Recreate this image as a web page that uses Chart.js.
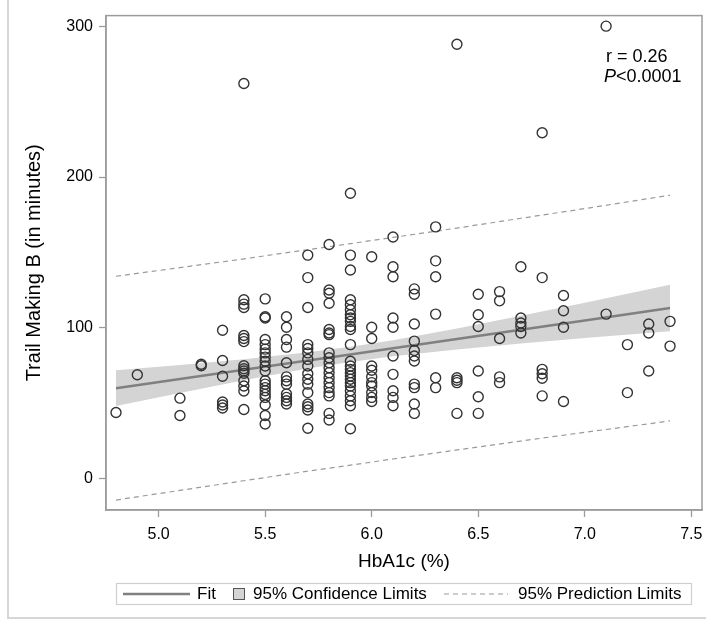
<!DOCTYPE html>
<html>
<head>
<meta charset="utf-8">
<script src="https://cdn.jsdelivr.net/npm/chart.js@4.4.1/dist/chart.umd.min.js"></script>
<style>
  html, body { margin: 0; padding: 0; background: #fff; }
</style>
</head>
<body>
<canvas id="chart" width="714" height="627"></canvas>
<script>
Chart.defaults.font.family = '"Liberation Sans", Arial, sans-serif';
Chart.defaults.color = '#000';

// HbA1c groups (x) and the Trail Making B times
const hba1cLevels = [4.8, 4.9, 5.1, 5.2, 5.3, 5.4, 5.5, 5.6, 5.7, 5.8, 5.9, 6.0, 6.1, 6.2, 6.3, 6.4, 6.5, 6.6, 6.7, 6.8, 6.9, 7.1, 7.2, 7.3, 7.4];
const trailByLevel = [
  [44],
  [69],
  [53.5, 42],
  [76, 75],
  [98.5, 78.5, 68, 51, 49, 47],
  [262, 118.7, 115.8, 113.6, 95, 93, 91, 75, 73, 71.5, 70, 65, 61.6, 58.3, 46],
  [119.3, 107.5, 106.6, 92.4, 89, 86, 83.5, 80.7, 78, 74.8, 71.5, 65, 62.8, 60.5, 58.4, 56, 54, 49, 42, 36.4],
  [107.5, 100.5, 92.4, 87.3, 77, 67.6, 65, 62.8, 56.2, 54, 51.8, 49.6],
  [148.3, 133.4, 113.6, 89, 86.4, 83.5, 79.2, 74.8, 69.7, 66, 62.8, 57.2, 49.6, 47.8, 45.7, 33.6],
  [155.3, 125.2, 123, 116.4, 99, 96.7, 95.6, 83.5, 80.3, 77, 73.7, 70.4, 67, 63.8, 60.5, 57.2, 55, 43.4, 39],
  [189.3, 148.3, 138.4, 118.7, 115.4, 112, 108.8, 106.6, 104.4, 101, 99, 89, 78, 74.8, 72.6, 70.4, 68.2, 66, 63.8, 61.6, 58.4, 55, 51.8, 48.5, 33.2],
  [147.2, 100.5, 93, 74.8, 72, 67.6, 63.8, 61.6, 57.2, 54, 51.3],
  [160.3, 140.6, 134, 106.6, 100.5, 81.4, 69.3, 58.4, 54, 48.5],
  [125.9, 122.4, 102.6, 91.3, 85.1, 81.4, 78.1, 62.8, 60.5, 49.6, 43.4],
  [167, 144.5, 134, 109.2, 67, 60.5],
  [288, 67, 65.4, 63.8, 43.4],
  [122.4, 108.8, 101, 71.5, 54.4, 43.4],
  [124.1, 118, 93, 67.6, 63.8],
  [140.6, 106.6, 103.3, 101, 96.7],
  [229.4, 133.4, 72.6, 69.7, 66.7, 55],
  [121.5, 111.4, 100.5, 51.3],
  [300, 109.2],
  [89, 57.2],
  [102.6, 96.7, 71.5],
  [104.4, 88]
];

// regression fit and limits, read at a few x positions
const fitX   = [4.8, 5.1, 5.4, 5.7, 5.9, 6.1, 6.4, 6.7, 7.0, 7.4];
const fitY   = [60.1, 66.2, 72.3, 78.5, 82.5, 86.6, 92.7, 98.9, 105.0, 113.2];
const clLow  = [48.3, 56.9, 65.3, 73.1, 77.5, 81.3, 85.8, 89.7, 93.3, 97.9];
const clHigh = [72.0, 75.5, 79.3, 83.9, 87.5, 91.9, 99.6, 108.1, 116.7, 128.6];
const plLow  = [-14.0, -7.6, -1.2, 5.1, 9.1, 13.2, 19.2, 25.1, 30.9, 38.4];
const plHigh = [134.3, 140.0, 145.8, 151.9, 155.9, 160.0, 166.2, 172.7, 179.1, 188.0];

const xTicks = [5.0, 5.5, 6.0, 6.5, 7.0, 7.5];
const yTicks = [0, 100, 200, 300];
const statR = 'r = 0.26';
const statP = '<0.0001';

var points = [];
hba1cLevels.forEach((x, i) => {
  trailByLevel[i].forEach(y => points.push({x: x, y: y}));
});
const toXY = (ys) => fitX.map((x, i) => ({x: x, y: ys[i]}));

const FONT = '"Liberation Sans", Arial, sans-serif';

// frame, stats text and the legend row under the plot
const decor = {
  id: 'decor',
  afterDraw(chart) {
    const c = chart.ctx, a = chart.chartArea;
    c.save();
    c.strokeStyle = '#9c9c9c';
    c.lineWidth = 1.5;
    c.strokeRect(a.left, a.top, a.right - a.left, a.bottom - a.top);

    // outer graph border
    c.strokeStyle = '#d6d6d6';
    c.lineWidth = 2;
    c.beginPath();
    c.moveTo(8, 0);
    c.lineTo(8, 618);
    c.lineTo(706, 618);
    c.stroke();

    // r / P text
    c.fillStyle = '#000';
    c.textBaseline = 'alphabetic';
    c.font = '18px ' + FONT;
    c.fillText(statR, 606, 62);
    c.font = 'italic 18px ' + FONT;
    c.fillText('P', 604, 82);
    var pw = c.measureText('P').width;
    c.font = '18px ' + FONT;
    c.fillText(statP, 604 + pw, 82);

    // legend
    c.strokeStyle = '#cfcfcf';
    c.lineWidth = 1.2;
    c.strokeRect(116.5, 583.5, 575, 21);
    var ly = 594;
    c.strokeStyle = '#808080';
    c.lineWidth = 2.5;
    c.beginPath(); c.moveTo(123, ly); c.lineTo(190, ly); c.stroke();
    c.fillStyle = '#d4d4d4';
    c.fillRect(233, 588, 11, 11);
    c.strokeStyle = '#555';
    c.lineWidth = 1;
    c.strokeRect(233.5, 588.5, 11, 11);
    c.strokeStyle = '#9a9a9a';
    c.lineWidth = 1.2;
    c.setLineDash([5, 4]);
    c.beginPath(); c.moveTo(444, ly); c.lineTo(508, ly); c.stroke();
    c.setLineDash([]);
    c.fillStyle = '#000';
    c.font = '17px ' + FONT;
    c.textBaseline = 'middle';
    c.fillText('Fit', 197, ly);
    c.fillText('95% Confidence Limits', 253, ly);
    c.fillText('95% Prediction Limits', 518, ly);
    c.restore();
  }
};

const ctx = document.getElementById('chart');

var chart = new Chart(ctx, {
  type: 'scatter',
  data: {
    datasets: [
      {
        label: 'Observed',
        data: points,
        pointRadius: 5,
        pointHoverRadius: 5,
        pointBorderColor: '#333',
        pointBackgroundColor: 'rgba(0,0,0,0)',
        pointBorderWidth: 1.4,
        order: 0
      },
      {
        type: 'line',
        label: 'Fit',
        data: toXY(fitY),
        borderColor: '#808080',
        borderWidth: 2.5,
        pointRadius: 0,
        fill: false,
        order: 1
      },
      {
        type: 'line',
        label: '95% Prediction Limits',
        data: toXY(plLow),
        borderColor: '#9a9a9a',
        borderDash: [5, 4],
        borderWidth: 1.2,
        pointRadius: 0,
        fill: false,
        order: 2
      },
      {
        type: 'line',
        label: '95% Prediction Limits',
        data: toXY(plHigh),
        borderColor: '#9a9a9a',
        borderDash: [5, 4],
        borderWidth: 1.2,
        pointRadius: 0,
        fill: false,
        order: 2
      },
      {
        type: 'line',
        label: 'CL lower',
        data: toXY(clLow),
        borderColor: 'rgba(0,0,0,0)',
        borderWidth: 1,
        pointRadius: 0,
        fill: false,
        order: 4
      },
      {
        type: 'line',
        label: '95% Confidence Limits',
        data: toXY(clHigh),
        borderColor: 'rgba(0,0,0,0)',
        borderWidth: 1,
        backgroundColor: '#d4d4d4',
        pointRadius: 0,
        fill: '-1',
        order: 4
      }
    ]
  },
  options: {
    responsive: false,
    animation: false,
    layout: { padding: { top: 12, right: 12, left: 0, bottom: 0 } },
    plugins: {
      legend: { display: false },
      tooltip: { enabled: false }
    },
    scales: {
      x: {
        type: 'linear',
        min: 4.753,
        max: 7.55,
        afterBuildTicks: s => { s.ticks = xTicks.map(v => ({value: v})); },
        afterFit: s => { s.height = 117; },
        ticks: {
          font: { size: 16 },
          color: '#000',
          padding: 8,
          callback: v => Number(v).toFixed(1)
        },
        grid: { drawOnChartArea: false, drawTicks: true, tickLength: 7, tickColor: '#9c9c9c', tickWidth: 1.3 },
        border: { display: true, color: '#9c9c9c', width: 1.5 },
        title: {
          display: true,
          text: 'HbA1c (%)',
          font: { size: 19 },
          color: '#000',
          padding: { top: 0, bottom: 54 }
        }
      },
      y: {
        type: 'linear',
        min: -20.6,
        max: 307,
        afterBuildTicks: s => { s.ticks = yTicks.map(v => ({value: v})); },
        afterFit: s => { s.width = 106; },
        ticks: {
          font: { size: 16 },
          color: '#000',
          padding: 6
        },
        grid: { drawOnChartArea: false, drawTicks: true, tickLength: 7, tickColor: '#9c9c9c', tickWidth: 1.3 },
        border: { display: true, color: '#9c9c9c', width: 1.5 },
        title: {
          display: true,
          text: 'Trail Making B (in minutes)',
          font: { size: 20 },
          color: '#000',
          padding: { top: 22, bottom: 0 }
        }
      }
    }
  },
  plugins: [decor]
});
</script>
</body>
</html>
